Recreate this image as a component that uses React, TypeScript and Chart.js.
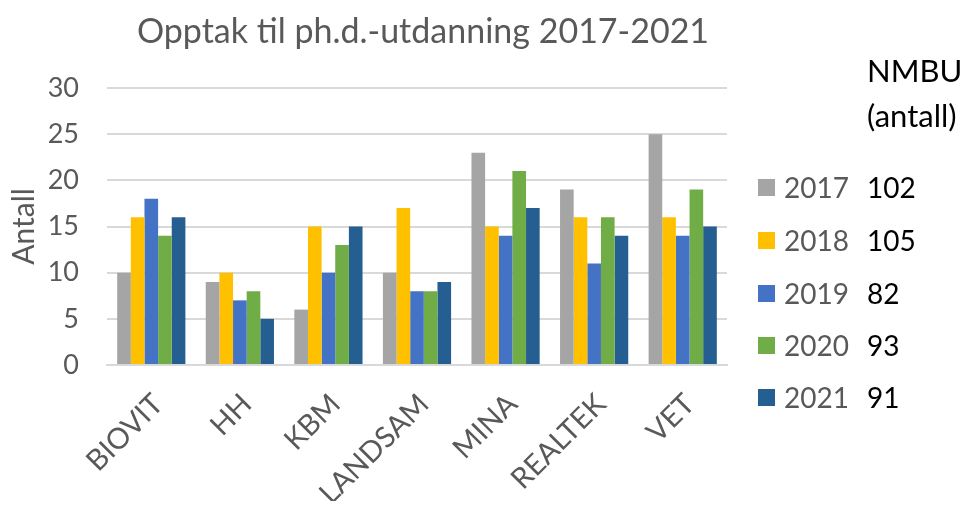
import React, { useEffect, useRef } from "react";
import { Chart, registerables } from "chart.js";

Chart.register(...registerables);

const categories = ["BIOVIT", "HH", "KBM", "LANDSAM", "MINA", "REALTEK", "VET"];
const years = ["2017", "2018", "2019", "2020", "2021"];
const v2017 = [10, 9, 6, 10, 23, 19, 25];
const v2018 = [16, 10, 15, 17, 15, 16, 16];
const v2019 = [18, 7, 10, 8, 14, 11, 14];
const v2020 = [14, 8, 13, 8, 21, 16, 19];
const v2021 = [16, 5, 15, 9, 17, 14, 15];
const nmbuTotals = [102, 105, 82, 93, 91];
const colors = ["#A5A5A5", "#FFC000", "#4472C4", "#70AD47", "#255E91"];
const titleText = "Opptak til ph.d.-utdanning 2017-2021";
const yTitle = "Antall";

const FONT = "Lato, 'Open Sans', sans-serif";
const GREY = "#595959";

export default function App() {
  const ref = useRef<HTMLCanvasElement | null>(null);
  useEffect(() => {
    if (!ref.current) return;
    const series = [v2017, v2018, v2019, v2020, v2021];
    const chart = new Chart(ref.current, {
      type: "bar",
      data: {
        labels: categories,
        datasets: years.map((y, i) => ({
          label: y,
          data: series[i],
          backgroundColor: colors[i],
          borderWidth: 0,
          categoryPercentage: 0.77,
          barPercentage: 1,
        })),
      },
      options: {
        responsive: false,
        animation: false,
        layout: { padding: { top: 88, right: 242, bottom: 0, left: 0 } },
        plugins: {
          legend: { display: false },
          title: { display: false },
          tooltip: { enabled: false },
        },
        scales: {
          x: {
            grid: { display: false, drawTicks: false },
            border: { display: true, color: "#D9D9D9", width: 2 },
            ticks: {
              color: GREY,
              font: { family: FONT, size: 29 },
              minRotation: 45,
              maxRotation: 45,
              autoSkip: false,
              padding: 22,
              labelOffset: 7,
            },
            afterFit: (s: any) => {
              s.height = 144;
            },
          },
          y: {
            min: 0,
            max: 30,
            ticks: {
              stepSize: 5,
              color: GREY,
              font: { family: FONT, size: 27 },
              padding: 28,
            },
            grid: { color: "#D9D9D9", lineWidth: 2, drawTicks: false },
            border: { display: false },
            title: {
              display: true,
              text: yTitle,
              color: GREY,
              font: { family: FONT, size: 30 },
              padding: { top: 6, bottom: 0 },
            },
            afterFit: (s: any) => {
              s.width = 107;
            },
          },
        },
      },
    });
    return () => chart.destroy();
  }, []);

  const rowTops = [187, 240, 293, 345, 397];
  return (
    <div style={{ position: "relative", width: 969, height: 509, margin: -8, background: "#fff", overflow: "hidden" }}>
      <canvas ref={ref} width={969} height={509} style={{ position: "absolute", left: 0, top: 0 }} />
      <div
        style={{
          position: "absolute",
          left: 0,
          width: 846,
          top: 10,
          textAlign: "center",
          fontFamily: FONT,
          fontSize: 34,
          lineHeight: "40px",
          color: GREY,
          whiteSpace: "nowrap",
        }}
      >
        {titleText}
      </div>
      <div style={{ position: "absolute", left: 867, top: 48, fontFamily: FONT, fontSize: 31, lineHeight: "45px", color: "#000" }}>
        NMBU
        <br />
        (antall)
      </div>
      {years.map((y, i) => (
        <React.Fragment key={y}>
          <div style={{ position: "absolute", left: 758, top: rowTops[i] - 8, width: 17, height: 17, background: colors[i] }} />
          <div
            style={{
              position: "absolute",
              left: 784,
              top: rowTops[i] - 18,
              fontFamily: FONT,
              fontSize: 28,
              lineHeight: "36px",
              color: GREY,
            }}
          >
            {y}
          </div>
          <div
            style={{
              position: "absolute",
              left: 867,
              top: rowTops[i] - 18,
              fontFamily: FONT,
              fontSize: 28,
              lineHeight: "36px",
              color: "#000",
            }}
          >
            {nmbuTotals[i]}
          </div>
        </React.Fragment>
      ))}
    </div>
  );
}
